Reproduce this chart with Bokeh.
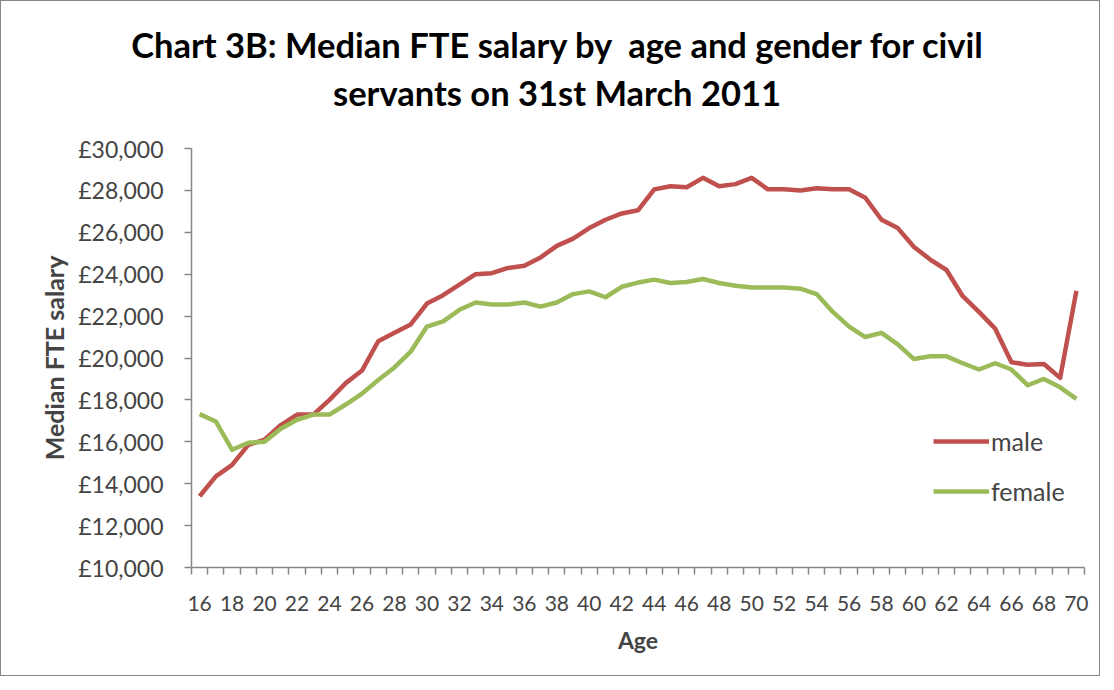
from bokeh.plotting import figure
from bokeh.layouts import column
from bokeh.models import (FixedTicker, CustomJSTickFormatter, Legend, LegendItem, Div, Range1d)
from bokeh.embed import file_html
from bokeh.resources import INLINE

ages = list(range(16, 71))
male = [13400, 14350, 14900, 15850, 16100, 16800, 17300, 17300, 18000, 18800,
        19400, 20800, 21200, 21600, 22600, 23000, 23500, 24000, 24050, 24300,
        24400, 24800, 25350, 25700, 26200, 26600, 26900, 27050, 28050, 28200,
        28150, 28600, 28200, 28300, 28600, 28050, 28050, 28000, 28100, 28050,
        28050, 27650, 26600, 26200, 25300, 24700, 24200, 22950, 22200, 21400,
        19800, 19680, 19710, 19050, 23200]
female = [17320, 16970, 15620, 15950, 16000, 16620, 17050, 17300, 17300, 17780,
          18300, 18950, 19550, 20300, 21500, 21750, 22300, 22650, 22550, 22550,
          22650, 22450, 22650, 23050, 23180, 22900, 23400, 23600, 23740, 23580,
          23630, 23770, 23580, 23450, 23370, 23370, 23370, 23310, 23050, 22200,
          21500, 21000, 21200, 20650, 19950, 20080, 20080, 19750, 19450, 19750,
          19450, 18700, 19000, 18600, 18050]
x_labels = list(range(16, 71, 2))
y_ticks = list(range(10000, 30001, 2000))

title_line1 = "Chart 3B: Median FTE salary by &nbsp;age and gender for civil"
title_line2 = "servants on 31st March 2011"

title_div = Div(text=title_line1 + "<br>" + title_line2, width=1098, height=120, margin=0,
                styles={"text-align": "center", "font-family": "Lato", "font-size": "34.5px",
                        "font-weight": "bold", "line-height": "48px", "color": "black",
                        "padding-top": "20px", "padding-left": "14px",
                        "box-sizing": "border-box", "background-color": "white"})

p = figure(width=1098, height=554, output_backend="svg", toolbar_location=None,
           x_range=Range1d(15.5, 70.5), y_range=Range1d(10000, 30000),
           min_border_left=190, min_border_right=15, min_border_top=27, min_border_bottom=108)
p.title = None

p.xgrid.visible = False
p.ygrid.visible = False
p.outline_line_color = None
p.background_fill_color = "white"
p.border_fill_color = "white"

gray = "#868686"
font = "Lato"

xa = p.xaxis[0]
xa.ticker = FixedTicker(ticks=x_labels, minor_ticks=[a - 0.5 for a in ages] + [70.5])
xa.major_tick_line_color = None
xa.major_tick_out = 0
xa.major_tick_in = 0
xa.minor_tick_line_color = gray
xa.minor_tick_out = 7
xa.minor_tick_in = 0
xa.axis_line_color = gray
xa.axis_line_width = 1.5
xa.minor_tick_line_width = 1.5
xa.major_label_text_font = font
xa.major_label_text_font_size = "21px"
xa.major_label_standoff = 21
xa.axis_label = "Age"
xa.axis_label_text_font = font
xa.axis_label_text_font_style = "bold"
xa.axis_label_text_font_size = "23px"
xa.axis_label_standoff = 12

ya = p.yaxis[0]
ya.ticker = FixedTicker(ticks=y_ticks, minor_ticks=[])
ya.formatter = CustomJSTickFormatter(code="return '\u00a3' + tick.toLocaleString('en-GB');")
ya.major_tick_line_color = gray
ya.major_tick_out = 7
ya.major_tick_in = 0
ya.major_tick_line_width = 1.5
ya.axis_line_color = gray
ya.axis_line_width = 1.5
ya.major_label_text_font = font
ya.major_label_text_font_size = "23px"
ya.major_label_standoff = 21
ya.axis_label = "Median FTE salary"
ya.axis_label_text_font = font
ya.axis_label_text_font_style = "bold"
ya.axis_label_text_font_size = "25px"
ya.axis_label_standoff = 6

rm = p.line(ages, male, line_color="#C0504D", line_width=4.5, line_join="round")
rf = p.line(ages, female, line_color="#9BBB59", line_width=4.5, line_join="round")

legend = Legend(items=[LegendItem(label="male", renderers=[rm]),
                       LegendItem(label="female", renderers=[rf])],
                location=(742, 61), orientation="vertical",
                border_line_color=None, background_fill_alpha=0,
                padding=0, margin=0, spacing=20, glyph_width=56, glyph_height=24,
                label_height=24, label_standoff=2,
                label_text_font=font, label_text_font_size="25px")
p.add_layout(legend, "center")

layout = column(title_div, p, spacing=0)
layout.styles = {"border": "1px solid #868686", "background-color": "white"}

open("out.html", "w").write(file_html(layout, INLINE))
